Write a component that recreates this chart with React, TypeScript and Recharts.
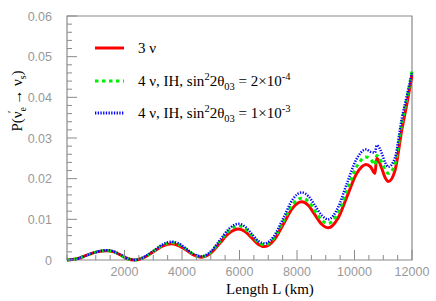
import { LineChart, Line, XAxis, YAxis, ReferenceArea } from 'recharts';

// baseline L (km) sampled at the extrema and between them
const LENGTHS = [
  0, 350, 700, 1040, 1390, 1630, 1870, 2110, 2350, 2670, 3000, 3320, 3640, 3900, 4160, 4420,
  4685, 5000, 5320, 5640, 5960, 6190, 6420, 6650, 6887, 7200, 7525, 7840, 8163, 8395, 8625, 8860,
  9090, 9420, 9745, 10070, 10400, 10560, 10712, 10772, 10870, 10950, 11070, 11180, 11400, 11650,
  11850, 12000,
];

const P_3NU = [
  0, 0.0003, 0.0012, 0.002, 0.0023, 0.002, 0.0012, 0.0003, 0.0, 0.0006, 0.002, 0.0034, 0.004,
  0.0035, 0.0024, 0.0012, 0.0007, 0.0017, 0.0042, 0.0066, 0.0076, 0.007, 0.0055, 0.0039, 0.0033,
  0.0049, 0.0088, 0.0127, 0.0143, 0.0134, 0.0111, 0.0088, 0.0079, 0.0102, 0.0157, 0.0212, 0.0235,
  0.0229, 0.0213, 0.025, 0.024, 0.0225, 0.0202, 0.0193, 0.0218, 0.0322, 0.0395, 0.0455,
];

const P_IH_2E4 = [
  0, 0.0003, 0.0012, 0.002, 0.0023, 0.002, 0.0012, 0.0003, 0.0, 0.0006, 0.0021, 0.0036, 0.0043,
  0.0038, 0.0026, 0.0013, 0.0008, 0.0019, 0.0046, 0.0072, 0.0084, 0.0077, 0.0061, 0.0044, 0.0037,
  0.0054, 0.0095, 0.0136, 0.0152, 0.0144, 0.0121, 0.0098, 0.009, 0.0115, 0.0172, 0.0229, 0.0253,
  0.0248, 0.0234, 0.0257, 0.025, 0.024, 0.0222, 0.0213, 0.0234, 0.0338, 0.0408, 0.0465,
];

const P_IH_1E3 = [
  0, 0.0003, 0.0012, 0.002, 0.0024, 0.0021, 0.0013, 0.0004, 0.0, 0.0007, 0.0022, 0.0038, 0.0045,
  0.004, 0.0027, 0.0014, 0.0009, 0.0021, 0.0049, 0.0077, 0.0089, 0.0082, 0.0065, 0.0047, 0.0041,
  0.0059, 0.0103, 0.0148, 0.0166, 0.0157, 0.0134, 0.011, 0.01, 0.0128, 0.019, 0.0248, 0.0272,
  0.0266, 0.0264, 0.0282, 0.0275, 0.0262, 0.0239, 0.0229, 0.025, 0.035, 0.0413, 0.046,
];

const X_TICKS = [
  0, 500, 1000, 1500, 2000, 2500, 3000, 3500, 4000, 4500, 5000, 5500, 6000, 6500, 7000, 7500,
  8000, 8500, 9000, 9500, 10000, 10500, 11000, 11500, 12000,
];
const X_LABELS = [2000, 4000, 6000, 8000, 10000, 12000];

const Y_TICKS = [
  0, 0.002, 0.004, 0.006, 0.008, 0.01, 0.012, 0.014, 0.016, 0.018, 0.02, 0.022, 0.024, 0.026,
  0.028, 0.03, 0.032, 0.034, 0.036, 0.038, 0.04, 0.042, 0.044, 0.046, 0.048, 0.05, 0.052, 0.054,
  0.056, 0.058, 0.06,
];
const Y_LABELS = ['0', '0.01', '0.02', '0.03', '0.04', '0.05', '0.06'];

const data = LENGTHS.map((L, i) => ({
  L,
  nu3: P_3NU[i],
  ih2e4: P_IH_2E4[i],
  ih1e3: P_IH_1E3[i],
}));

const W = 436;
const H = 301;
const PLOT = { left: 67, right: 412, top: 16, bottom: 260 };
const AXIS_COLOR = '#8a8a8a';
const LABEL_COLOR = '#999';
const SANS = '"Liberation Sans", Arial, sans-serif';
const SERIF = '"Liberation Serif", "Times New Roman", serif';

const isLabelled = (v: number, labels: string[]) =>
  labels.some((l) => Math.abs(parseFloat(l) - v) < 1e-9);

function YTick({ y, payload }: any) {
  const v = payload.value as number;
  const major = isLabelled(v, Y_LABELS);
  return (
    <g>
      <line x1={PLOT.left} x2={PLOT.left + (major ? 10 : 5)} y1={y} y2={y} stroke={AXIS_COLOR} />
      {major && (
        <text
          x={PLOT.left - 15}
          y={y}
          dy="0.36em"
          textAnchor="end"
          fill={LABEL_COLOR}
          style={{ fontSize: 12.5, fontFamily: SANS }}
        >
          {v === 0 ? '0' : v.toFixed(2)}
        </text>
      )}
    </g>
  );
}

function XTick({ x, payload }: any) {
  const v = payload.value as number;
  const major = X_LABELS.includes(v);
  return (
    <g>
      <line x1={x} x2={x} y1={PLOT.bottom} y2={PLOT.bottom - (major ? 10 : 5)} stroke={AXIS_COLOR} />
      {major && (
        <text x={x} y={PLOT.bottom + 16} textAnchor="middle" fill={LABEL_COLOR} style={{ fontSize: 12.5, fontFamily: SANS }}>
          {v}
        </text>
      )}
    </g>
  );
}

function Overlay() {
  const rows = [
    { y: 48, stroke: '#ff0000', dash: undefined, width: 3 },
    { y: 81, stroke: '#00ee00', dash: '3.5 3.5', width: 3 },
    { y: 113, stroke: '#0000ff', dash: '1.3 1.4', width: 3 },
  ];
  const tx = 138;
  const serif = { fontFamily: SERIF, fontSize: 15 };
  return (
    <svg width={W} height={H} style={{ position: 'absolute', left: 0, top: 0, pointerEvents: 'none' }}>
      {rows.map((r) => (
        <line key={r.y} x1={95} x2={124} y1={r.y} y2={r.y} stroke={r.stroke} strokeWidth={r.width} strokeDasharray={r.dash} />
      ))}
      <g style={serif} fill="#000">
        <text x={tx} y={53}>3 ν</text>
        <text x={tx} y={86}>
          4 ν, IH, sin<tspan dy={-6} style={{ fontSize: 10.5 }}>2</tspan>
          <tspan dy={6}>2θ</tspan>
          <tspan dy={4} style={{ fontSize: 10.5 }}>03</tspan>
          <tspan dy={-4}> = 2×10</tspan>
          <tspan dy={-6} style={{ fontSize: 10.5 }}>-4</tspan>
        </text>
        <text x={tx} y={118}>
          4 ν, IH, sin<tspan dy={-6} style={{ fontSize: 10.5 }}>2</tspan>
          <tspan dy={6}>2θ</tspan>
          <tspan dy={4} style={{ fontSize: 10.5 }}>03</tspan>
          <tspan dy={-4}> = 1×10</tspan>
          <tspan dy={-6} style={{ fontSize: 10.5 }}>-3</tspan>
        </text>
        <text x={270} y={294} textAnchor="middle">
          Length L (km)
        </text>
        <text x={22} y={101} transform="rotate(-90 22 101)" textAnchor="middle">
          P(ν<tspan dy={4} style={{ fontSize: 10 }}>e</tspan>
          <tspan dx={-6} dy={-11} style={{ fontSize: 11 }}>′</tspan>
          <tspan dx={2} dy={7}> → ν</tspan>
          <tspan dy={4} style={{ fontSize: 10 }}>s</tspan>
          <tspan dy={-4}>)</tspan>
        </text>
      </g>
    </svg>
  );
}

export default function App() {
  return (
    <div style={{ position: 'absolute', left: 0, top: 0, width: W, height: H, background: '#fff' }}>
      <LineChart
        width={W}
        height={H}
        data={data}
        margin={{ top: PLOT.top, right: W - PLOT.right, bottom: 0, left: 0 }}
      >
        <XAxis
          dataKey="L"
          type="number"
          domain={[0, 12000]}
          ticks={X_TICKS}
          interval={0}
          height={H - PLOT.bottom}
          axisLine={false}
          tickLine={false}
          tick={<XTick />}
        />
        <YAxis
          type="number"
          domain={[0, 0.06]}
          ticks={Y_TICKS}
          interval={0}
          width={PLOT.left}
          axisLine={false}
          tickLine={false}
          tick={<YTick />}
        />
        <Line type="monotone" dataKey="nu3" stroke="#ff0000" strokeWidth={3} dot={false} isAnimationActive={false} />
        <Line
          type="monotone"
          dataKey="ih2e4"
          stroke="#00ee00"
          strokeWidth={3}
          strokeDasharray="3.5 3.5"
          dot={false}
          isAnimationActive={false}
        />
        <Line
          type="monotone"
          dataKey="ih1e3"
          stroke="#0000ff"
          strokeWidth={2.5}
          strokeDasharray="1.3 1.4"
          dot={false}
          isAnimationActive={false}
        />
        <ReferenceArea
          x1={0}
          x2={12000}
          y1={0}
          y2={0.06}
          fill="none"
          stroke={AXIS_COLOR}
          strokeWidth={1.2}
          ifOverflow="visible"
        />
      </LineChart>
      <Overlay />
    </div>
  );
}
